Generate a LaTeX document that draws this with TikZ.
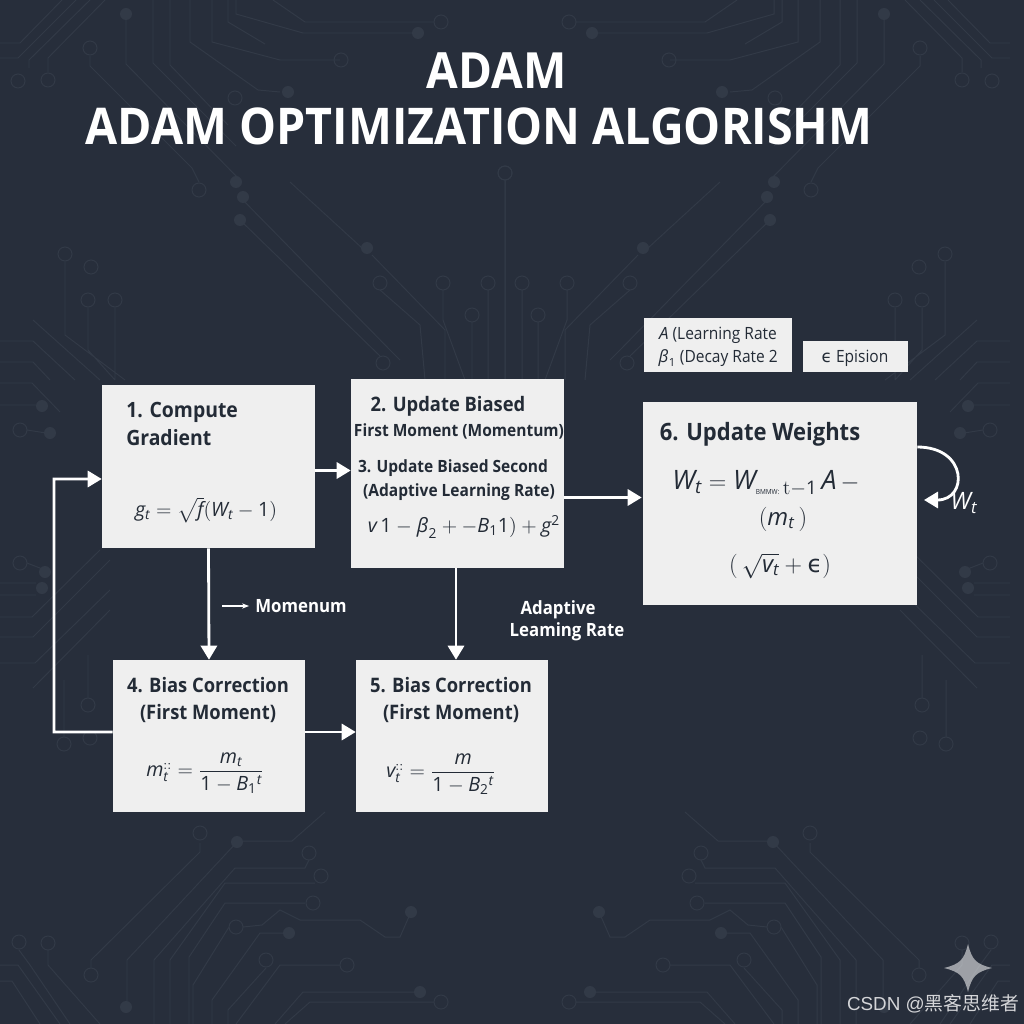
\documentclass[tikz,border=0pt]{standalone}
\usepackage{amsmath}
\usepackage{mathspec}
\setmainfont[FakeStretch=0.92]{Open Sans}
\setmathsfont(Digits,Latin,Greek){Open Sans}
\newfontfamily\cjk{Noto Sans CJK SC}
\newfontfamily\markfont{Liberation Sans}
\newfontfamily\symfont{DejaVu Sans}
\definecolor{bgdark}{HTML}{272E3B}
\definecolor{trace}{HTML}{323A47}
\definecolor{boxfill}{HTML}{EFEFEF}
\definecolor{inkdark}{HTML}{232B36}
\usetikzlibrary{arrows.meta}
\newcommand{\epsmark}{\mbox{\symfont ϵ}}
\tikzset{
    stepbox/.style 2 args={fill=boxfill, draw=none, inner sep=0pt, minimum width=#1*0.025cm, minimum height=#2*0.025cm},
    title/.style={text=white, font=\fontsize{36}{36}\selectfont\bfseries, inner sep=0pt},
    head/.style={text=inkdark, font=\fontsize{14.2}{19.2}\selectfont\bfseries, inner sep=0pt, align=center},
    subhead/.style={text=inkdark, font=\fontsize{12}{16}\selectfont\bfseries, inner sep=0pt, align=center},
    eqn/.style={text=inkdark, font=\fontsize{14}{18}\selectfont, inner sep=0pt, align=center},
    note/.style={text=white, font=\fontsize{13}{16}\selectfont\bfseries, inner sep=0pt, align=center},
    flow/.style={draw=white, line width=2pt, -{Triangle[length=10pt,width=11.5pt]}},
    pcb/.style={draw=trace, line width=0.7pt},
    via/.style={fill=trace},
}
% one half of the background, drawn twice
\newcommand{\pcbhalf}{
    \draw[pcb] (0,43) -- (20,43) -- (62,0) (0,58) -- (18,58) -- (76,0)
        (29,68) -- (29,60) -- (90,0) (48,72) -- (48,58) -- (105,0)
        (126,18) -- (126,64) -- (240,180) (90,56) -- (90,66) -- (192,168) -- (199,182)
        (153,0) -- (153,63) -- (236,146) (170,0) -- (170,65) -- (228,125)
        (190,0) -- (190,42) -- (258,90) -- (280,92) (212,0) -- (212,42) -- (280,60) -- (340,60)
        (228,0) -- (228,22) -- (265,44) (236,0) -- (236,14) -- (303,33) -- (412,33)
        (273,0) -- (305,22) -- (434,22) (240,197) -- (390,350) -- (400,360)
        (240,220) -- (380,356) (290,182) -- (362,248) (372,255) -- (445,330) -- (445,380)
        (380,290) -- (420,325) -- (425,380) (443,290) -- (443,320) -- (465,380)
        (472,322) -- (472,380) (488,290) -- (488,380) (505,180) -- (505,380)
        (65,262) -- (65,335) -- (125,380) (88,308) -- (88,350) -- (115,380)
        (115,308) -- (115,380) (33,320) -- (100,380) (0,341) -- (33,341) -- (75,380)
        (0,362) -- (33,362) -- (50,380)
        (0,383) -- (32,383) -- (60,412) (0,405) -- (36,405) (27,430) -- (46,433)
        (27,563) -- (45,570) (0,583) -- (36,583) (0,595) -- (36,595)
        (0,617) -- (32,617) -- (100,550) (0,637) -- (33,637) -- (110,560)
        (0,663) -- (35,663) -- (110,590) (33,688) -- (110,610)
        (88,655) -- (88,698) (64,680) -- (64,737)
        (200,843) -- (200,852) -- (91,960) -- (91,968) (237,842) -- (127,960) -- (127,1003)
        (237,841) -- (292,841) -- (325,812) (309,860) -- (305,868) -- (235,868) -- (154,960) -- (154,1024)
        (315,883) -- (225,883) -- (170,960) -- (170,1024) (305,903) -- (225,903) -- (189,957) -- (189,1024)
        (229,927) -- (193,985) -- (193,1024) (243,927) -- (262,925) -- (280,910) -- (300,920) -- (360,920) -- (385,937) -- (400,937) -- (411,912)
        (285,933) -- (260,933) -- (212,1000) -- (212,1024) (266,968) -- (228,1010) -- (228,1024)
        (340,965) -- (280,965) -- (236,1024) (416,992) -- (303,992) -- (275,1024)
        (434,1002) -- (310,1002) -- (285,1024) (19,950) -- (30,965) -- (70,1024)
        (48,950) -- (48,965) -- (100,1024) (0,965) -- (18,965) -- (60,1024)
        (0,981) -- (12,981) -- (40,1024);
    \foreach \cx/\cy in {18/81, 48/80, 90/48, 199/190, 235/98, 341/60, 441/22, 65/254, 91/267,
        88/300, 115/300, 380/283, 443/283, 472/315, 488/283, 505/173, 383/363,
        20/430, 20/563, 88/705, 64/744, 90/738,
        200/833, 91/975, 309/853, 321/876, 313/903, 236/927, 266/960, 347/965, 441/1002, 19/942, 48/943}{
        \draw[pcb] (\cx,\cy) circle (7);
    }
    \foreach \cx/\cy in {126/14, 288/92, 418/33, 236/182, 243/197, 240/220, 367/248, 42/406, 50/433, 45/572, 42/588,
        237/842, 411/912, 289/933, 126/1007, 420/992}{
        \fill[via] (\cx,\cy) circle (6);
    }
}
\begin{document}
\begin{tikzpicture}[x=0.025cm, y=-0.025cm]
    \fill[bgdark] (0,0) rectangle (1024,1024);
    \useasboundingbox (0,0) rectangle (1024,1024);

    % background traces
    \begin{scope}
        \clip (0,0) rectangle (1024,1024);
        \pcbhalf
        \begin{scope}[xscale=-1, shift={(-1010,0)}]
            \pcbhalf
        \end{scope}
    \end{scope}

    % boxes
    \node[stepbox={213}{163}] (grad) at (208.5,466.5) {};
    \node[stepbox={213}{189}] (moment) at (457.5,473.5) {};
    \node[stepbox={274}{203}] (weights) at (780,503.5) {};
    \node[stepbox={192}{152}] (biasA) at (209,736) {};
    \node[stepbox={192}{152}] (biasB) at (452,736) {};
    \node[stepbox={148}{54}] (rates) at (718,345) {};
    \node[stepbox={105}{31}] (epsbox) at (855.5,356.5) {};

    % title
    \node[title, font=\fontsize{35.5}{36}\selectfont\bfseries] (titleA) at (496.5,71) {ADAM};
    \node[title] (titleB) at (479,126) {ADAM OPTIMIZATION ALGORISHM};

    % text
    \node[head, font=\fontsize{15}{19.5}\selectfont\bfseries, align=left, anchor=west] (gradtxt) at (126,424) {1. Compute\\Gradient};
    \node[eqn] (gradeq) at (206,510) {$g_t = \sqrt{f}(W_t - 1)$};
    \node[head] (momtxtA) at (448,406) {2. Update Biased};
    \node[subhead] (momtxtB) at (459,431) {First Moment (Momentum)};
    \node[subhead] (momtxtC) at (453,468) {3. Update Biased Second};
    \node[subhead] (momtxtD) at (459,492) {(Adaptive Learning Rate)};
    \node[eqn] (momeq) at (464,527) {$v\,1 - \beta_2 + - B_1 1) + g^2$};

    \node[head] (biasAtxt) at (208,700) {4. Bias Correction\\(First Moment)};
    \node[head] (biasBtxt) at (451,700) {5. Bias Correction\\(First Moment)};
    \node[eqn] (biasAeq) at (205,773) {$m^{::}_t = \dfrac{m_t}{1 - B_1{}^t}$};
    \node[eqn] (biasBeq) at (441,774) {$v^{::}_t = \dfrac{m}{1 - B_2{}^t}$};

    \node[head, font=\fontsize{17}{20}\selectfont\bfseries] (wtitle) at (760,434) {6. Update Weights};
    \node[eqn, font=\fontsize{19}{24}\selectfont] (weqA) at (766,483) {$W_t = W_{\text{\tiny BMMW:}\,\mathrm{t}-1}\,A\, -$};
    \node[eqn, font=\fontsize{17}{20}\selectfont] (weqB) at (783,519) {$(m_t\,)$};
    \node[eqn, font=\fontsize{17}{20}\selectfont] (weqC) at (780,566) {$(\,\sqrt{v_t} + \epsmark)$};

    \node[eqn, font=\fontsize{12}{15}\selectfont] (rateA) at (718,335) {$A$ (Learning Rate};
    \node[eqn, font=\fontsize{12}{15}\selectfont] (rateB) at (718,358) {$\beta_1$ (Decay Rate 2};
    \node[eqn, font=\fontsize{12}{15}\selectfont] (epstxt) at (855,358) {\epsmark\ Epision};

    \node[note] (momlabel) at (301,606) {Momenum};
    \node[note] (adaptA) at (558,610) {Adaptive};
    \node[note] (adaptB) at (567,632) {Leaming Rate};
    \node[note, font=\fontsize{17}{18}\selectfont] (wlabel) at (964,503) {$W_t$};
    \coordinate (momstart) at (222,606);
    \coordinate (loopA) at (54,732);
    \coordinate (loopB) at (54,479);
    \coordinate (wback) at (924,500);

    % connectors
    \draw[flow] ([shift={(0,4)}]grad.east) -- ([shift={(0,-3)}]moment.west);
    \draw[flow] ([shift={(0,24)}]moment.east) -- ([shift={(-1,-6)}]weights.west);
    \draw[flow] (grad.south) -- (biasA.north);
    \draw[flow] ([shift={(-1.5,0)}]moment.south) -- ([shift={(4,0)}]biasB.north);
    \draw[flow] ([shift={(0,-4)}]biasA.east) -- ([shift={(0,-4)}]biasB.west);
    \draw[flow] ([shift={(0,-4)}]biasA.west) -- (loopA) -- (loopB) -- ([shift={(0,12.5)}]grad.west);
    \draw[flow] ([shift={(0,-56.5)}]weights.east) .. controls (968,447) and (968,500) .. (wback);
    \draw[draw=white, line width=1pt, -{Stealth[length=5pt]}] (momstart) -- ([shift={(-6,0)}]momlabel.west);

    % corner mark
    \fill[fill=white, fill opacity=.55] (968,944) .. controls (972,960) and (976,964) .. (992,968)
        .. controls (976,972) and (972,976) .. (968,992)
        .. controls (964,976) and (960,972) .. (944,968)
        .. controls (960,964) and (964,960) .. (968,944) -- cycle;
    \node[text=white!80!bgdark, font=\fontsize{13.4}{15}\selectfont, inner sep=0pt] (csdn) at (933,1004) {\markfont CSDN @\cjk 黑客思维者};
\end{tikzpicture}
\end{document}
